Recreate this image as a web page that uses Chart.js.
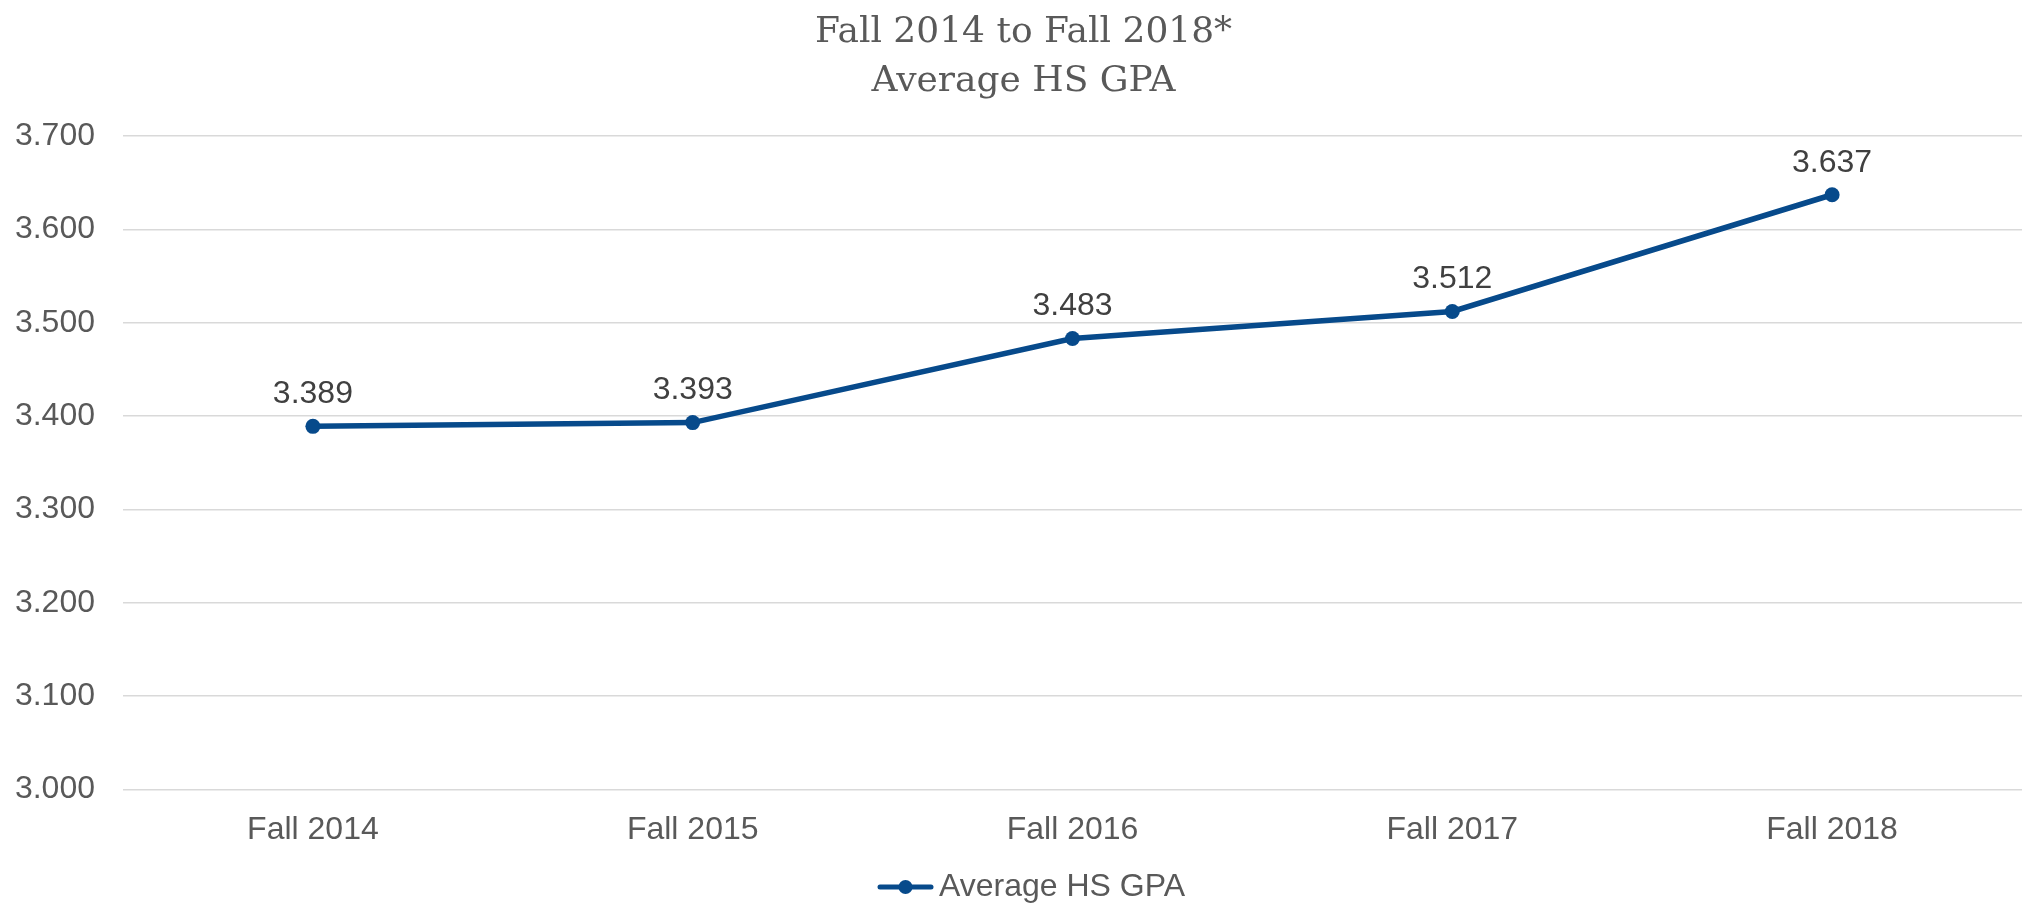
<!DOCTYPE html>
<html>
<head>
<meta charset="utf-8">
<script src="https://cdn.jsdelivr.net/npm/chart.js@4"></script>
<style>
  html, body { margin: 0; padding: 0; background: #ffffff; }
  #wrap { width: 2022px; height: 906px; }
</style>
</head>
<body>
<div id="wrap"><canvas id="chartGpa" width="2022" height="906"></canvas></div>
<script>
// data
const terms = ["Fall 2014", "Fall 2015", "Fall 2016", "Fall 2017", "Fall 2018"];
const avgGpa = [3.389, 3.393, 3.483, 3.512, 3.637];
const titleLines = ["Fall 2014 to Fall 2018*", "Average HS GPA"];
const seriesName = "Average HS GPA";

const lineColor = "#074a8b";
const sansFont = "'Liberation Sans', Arial, sans-serif";

// legend marker: short line with a dot in the middle
function legendMarker() {
  const c = document.createElement("canvas");
  c.width = 57;
  c.height = 16;
  const g = c.getContext("2d");
  g.strokeStyle = lineColor;
  g.lineWidth = 5;
  g.lineCap = "round";
  g.beginPath();
  g.moveTo(3, 8);
  g.lineTo(54, 8);
  g.stroke();
  g.fillStyle = lineColor;
  g.beginPath();
  g.arc(28.5, 8, 7, 0, Math.PI * 2);
  g.fill();
  return c;
}

// value labels above each point
const valueLabels = {
  id: "valueLabels",
  afterDatasetsDraw(chart) {
    const ctx = chart.ctx;
    const meta = chart.getDatasetMeta(0);
    ctx.save();
    ctx.font = "32px " + sansFont;
    ctx.fillStyle = "#404040";
    ctx.textAlign = "center";
    ctx.textBaseline = "bottom";
    meta.data.forEach((pt, i) => {
      ctx.fillText(avgGpa[i].toFixed(3), pt.x, pt.y - 16);
    });
    ctx.restore();
  }
};

// nudge the legend a bit to the right, like the original
const legendShift = {
  id: "legendShift",
  afterLayout(chart) {
    chart.legend.left += 13;
    chart.legend.right += 13;
  }
};

const marker = legendMarker();

const config = {
  type: "line",
  data: {
    labels: terms,
    datasets: [
      {
        label: seriesName,
        data: avgGpa,
        borderColor: lineColor,
        backgroundColor: lineColor,
        borderWidth: 5.5,
        pointRadius: 7.5,
        pointHoverRadius: 7.5,
        pointBackgroundColor: lineColor,
        pointBorderWidth: 0,
        tension: 0,
        fill: false
      }
    ]
  },
  options: {
    responsive: false,
    animation: false,
    layout: {
      autoPadding: false,
      padding: { left: 15, right: -10, top: 4, bottom: -7 }
    },
    plugins: {
      title: {
        display: true,
        text: titleLines,
        color: "#595959",
        font: { family: "'DejaVu Serif', serif", size: 36, weight: "normal", lineHeight: 1.36 },
        padding: { top: 4, bottom: 30 }
      },
      legend: {
        position: "bottom",
        labels: {
          usePointStyle: true,
          pointStyleWidth: 35,
          color: "#595959",
          font: { family: sansFont, size: 32, lineHeight: 1.0 },
          padding: 1,
          generateLabels(chart) {
            return [{
              text: seriesName,
              pointStyle: marker,
              fillStyle: lineColor,
              strokeStyle: lineColor,
              lineWidth: 0,
              fontColor: "#595959",
              datasetIndex: 0
            }];
          }
        }
      },
      tooltip: { enabled: false }
    },
    scales: {
      x: {
        offset: true,
        grid: { display: false, drawTicks: false },
        border: { display: false },
        ticks: {
          color: "#595959",
          font: { family: sansFont, size: 32 },
          padding: 21
        },
        afterFit(scale) {
          scale.paddingLeft = 0;
          scale.paddingRight = 0;
        }
      },
      y: {
        min: 3.0,
        max: 3.7,
        grid: { color: "#d9d9d9", lineWidth: 1.5, drawTicks: false },
        border: { display: false },
        ticks: {
          stepSize: 0.1,
          color: "#595959",
          font: { family: sansFont, size: 32 },
          padding: 28,
          callback: v => Number(v).toFixed(3)
        },
        afterFit(scale) {
          scale.width = 108;
        }
      }
    }
  },
  plugins: [valueLabels, legendShift]
};

new Chart(document.getElementById("chartGpa"), config);
</script>
</body>
</html>
